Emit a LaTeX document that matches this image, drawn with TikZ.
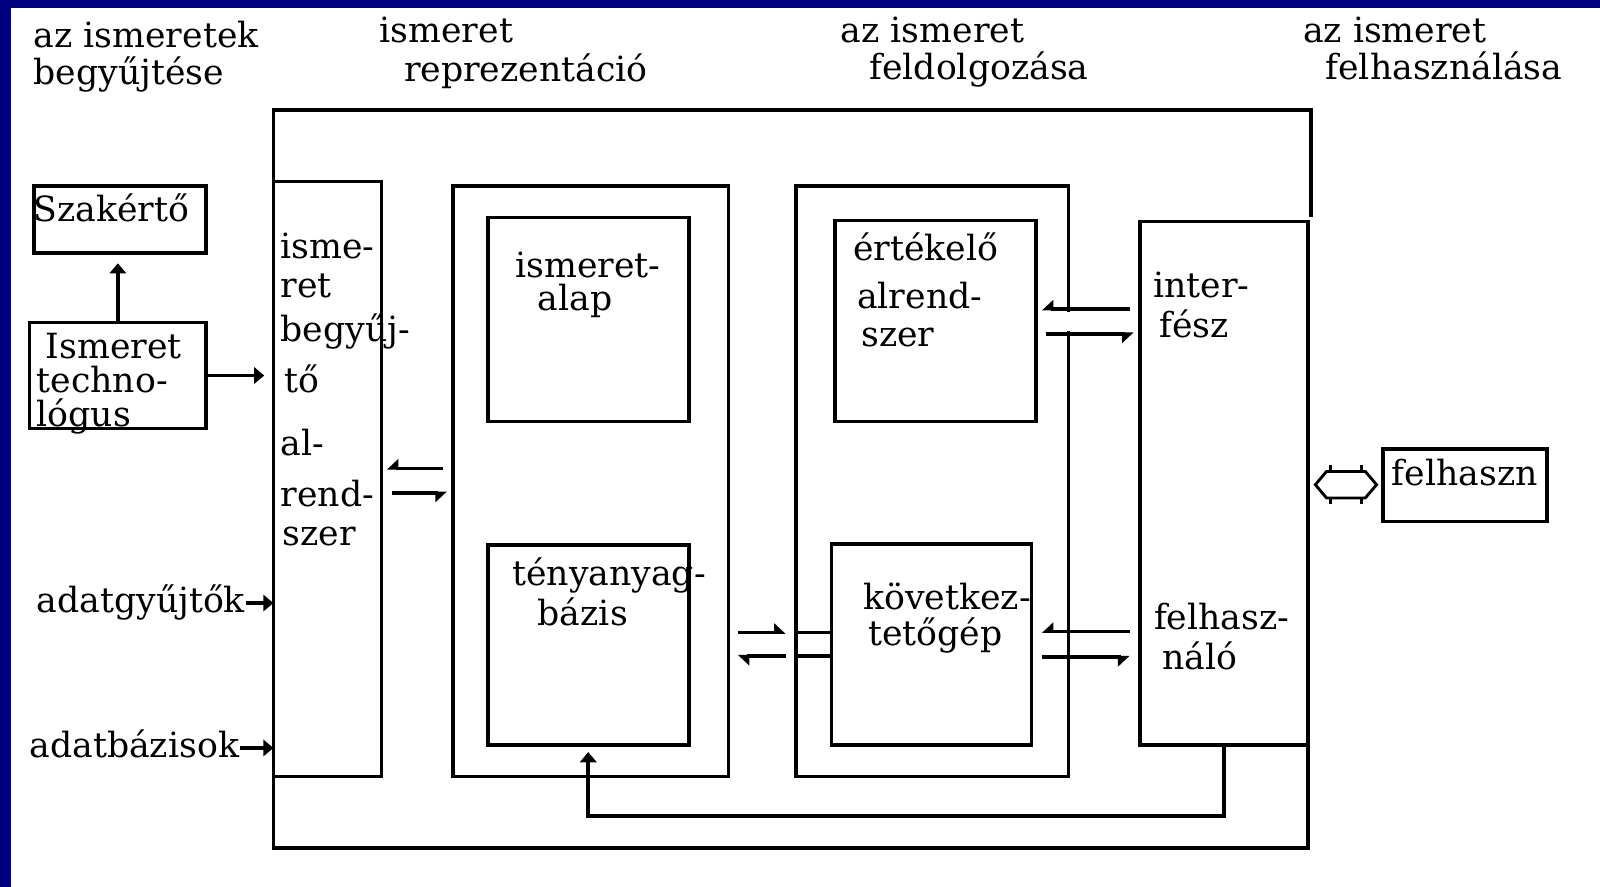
\documentclass[tikz,border=0pt]{standalone}
\usepackage{fontspec}
\setmainfont{DejaVu Serif}
\usetikzlibrary{arrows.meta}
\definecolor{navyband}{RGB}{0,0,128}
\begin{document}
\begin{tikzpicture}[x=1pt,y=-1pt,
  every node/.style={inner sep=0pt, outer sep=0pt},
  txt/.style={anchor=base west, font=\fontsize{34}{35}\selectfont},
  box/.style={draw, line width=3.6pt, anchor=north west},
  ln/.style={line width=3.6pt},
  arr/.style={ln, -{Triangle[length=10pt,width=16pt]}},
  hr/.style={ln, -{Triangle[harpoon,swap,length=10pt,width=18pt]}},
  hl/.style={ln, -{Triangle[harpoon,length=10pt,width=18pt]}},
]
\useasboundingbox (0,0) rectangle (1568,869);
\fill[white] (0,0) rectangle (1568,869);
% slide frame bands
\fill[navyband] (0,0) rectangle (1568,8);
\fill[navyband] (0,0) rectangle (11,869);

% column headings
\node[txt] (h1a) at (33,47) {az ismeretek};
\node[txt] (h1b) at (33,83) {begyűjtése};
\node[txt] (h2a) at (372,42) {ismeret};
\node[txt] (h2b) at (396,80) {reprezentáció};
\node[txt] (h3a) at (824,42) {az ismeret};
\node[txt] (h3b) at (852,78) {feldolgozása};
\node[txt] (h4a) at (1277,42) {az ismeret};
\node[txt] (h4b) at (1299,78) {felhasználása};

% boxes
\node[box, minimum width=169pt, minimum height=66pt]  (szak)  at (33,182)  {};
\node[box, minimum width=173pt, minimum height=104pt] (tech)  at (29,316)  {};
\node[box, minimum width=106pt, minimum height=583pt] (begy)  at (268,178) {};
\node[box, minimum width=270pt, minimum height=579pt] (repr)  at (444,182) {};
\node[box, minimum width=197pt, minimum height=200pt] (alap)  at (478,213) {};
\node[box, minimum width=197pt, minimum height=196pt] (teny)  at (478,534) {};
\node[box, minimum width=267pt, minimum height=579pt] (feld)  at (780,182) {};
\node[box, minimum width=197pt, minimum height=197pt] (ertek) at (818,216) {};
\node[box, minimum width=196pt, minimum height=197pt] (kovet) at (815,533) {};
\node[box, minimum width=165pt, minimum height=513pt] (iface) at (1117,217) {};
\node[box, minimum width=161pt, minimum height=71pt]  (felh)  at (1355,440) {};

% outer system frame
\draw[ln] (1285,213) -- (1285,108) -- (268,108) -- (268,831) -- (1282,831) -- (iface.south east);

% box texts
\node[txt] (t1) at (33,217) {Szakértő};
\node[txt] (t2) at (45,351) {Ismeret};
\node[txt] (t3) at (36,385) {techno-};
\node[txt] (t4) at (36,418) {lógus};

\node[txt] (b1) at (275,253) {isme-};
\node[txt] (b2) at (275,292) {ret};
\node[txt] (b3) at (275,335) {begyűj-};
\node[txt] (b4) at (279,385) {tő};
\node[txt] (b5) at (275,446) {al-};
\node[txt] (b6) at (275,496) {rend-};
\node[txt] (b7) at (277,535) {szer};

\node[txt] (a1) at (505,272) {ismeret-};
\node[txt] (a2) at (527,304) {alap};
\node[txt] (n1) at (502,574) {tényanyag-};
\node[txt] (n2) at (527,613) {bázis};

\node[txt] (e1) at (836,255) {értékelő};
\node[txt] (e2) at (840,302) {alrend-};
\node[txt] (e3) at (844,340) {szer};
\node[txt] (k1) at (846,597) {következ-};
\node[txt] (k2) at (851,633) {tetőgép};

\node[txt] (i1) at (1130,292) {inter-};
\node[txt] (i2) at (1136,331) {fész};
\node[txt] (i3) at (1131,617) {felhasz-};
\node[txt] (i4) at (1139,656) {náló};

\node[txt] (f1) at (1364,476) {felhaszn};

\node[txt] (adg) at (36,600) {adatgyűjtők};
\node[txt] (adb) at (29,742) {adatbázisok};

% single arrows
\draw[arr, shorten >=10pt] (tech.north) -- (tech.north |- szak.south);
\draw[arr, shorten >=9pt] (tech.east) -- (begy.west |- tech.east);
\draw[arr, shorten <=1pt] ([yshift=9pt]adg.base east) -- ([yshift=9pt]adg.base east -| begy.west);
\draw[arr, shorten <=1pt] ([yshift=9pt]adb.base east) -- ([yshift=9pt]adb.base east -| begy.west);
\draw[arr, shorten >=7pt] (iface.south) -- ++(0,70) -| (teny.south);

% paired half arrows
\draw[hr, shorten <=10pt, shorten >=5pt] (repr.west |- 0,459) -- (begy.east |- 0,459);
\draw[hr, shorten <=10pt, shorten >=6pt] (begy.east |- 0,483) -- (repr.west |- 0,483);

\fill[white] (1044,306) rectangle (1051,324);
\draw[hr, shorten <=10pt, shorten >=6pt] (iface.west |- 0,303) -- (ertek.east |- 0,303);
\draw[hr, shorten <=10pt, shorten >=6pt] (ertek.east |- 0,327) -- (iface.west |- 0,327);

\draw[hr, shorten <=10pt, shorten >=10pt] (iface.west |- 0,619) -- (kovet.east |- 0,619);
\draw[hr, shorten <=10pt, shorten >=10pt] (kovet.east |- 0,644) -- (iface.west |- 0,644);

\draw[hl, shorten <=9pt, shorten >=10pt] (repr.east |- 0,620) -- (feld.west |- 0,620);
\draw[hl, shorten <=10pt, shorten >=9pt] (feld.west |- 0,643) -- (repr.east |- 0,643);
\draw[ln] (feld.west |- 0,620) -- (kovet.west |- 0,620);
\draw[ln] (feld.west |- 0,643) -- (kovet.west |- 0,643);

% two-way link to the user
\draw[line width=2.8pt, line join=miter] (1289,475) -- (1300,462) -- (1338,462) -- (1349,475) -- (1338,488) -- (1300,488) -- cycle;
\draw[line width=2.8pt] (1304,456) -- (1304,462) (1304,488) -- (1304,494)
                        (1334,456) -- (1334,462) (1334,488) -- (1334,494);
\end{tikzpicture}
\end{document}
